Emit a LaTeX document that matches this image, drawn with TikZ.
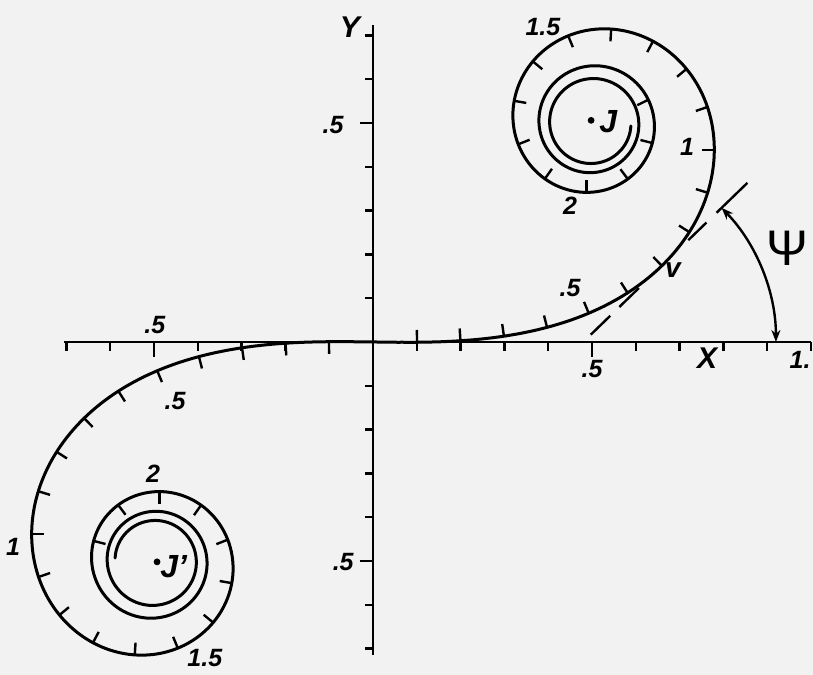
\documentclass[tikz,border=0pt]{standalone}
\usepackage{fontspec}
\setmainfont{Liberation Sans}
\usetikzlibrary{arrows.meta}
\definecolor{bg}{RGB}{242,242,242}
\begin{document}
\begin{tikzpicture}[x=219pt,y=219pt,
 declare function={
  ff(\t)=(1+0.926*\t)/(2+1.792*\t+3.104*\t*\t);
  gg(\t)=1/(2+4.142*\t+3.492*\t*\t+6.670*\t*\t*\t);
  cx(\t)=0.5+ff(\t)*sin(90*\t*\t)-gg(\t)*cos(90*\t*\t);
  cy(\t)=0.5-ff(\t)*cos(90*\t*\t)-gg(\t)*sin(90*\t*\t);
 },
 curve/.style={line width=1.5pt, line join=round, line cap=round},
 axisline/.style={line width=1.4pt},
 tk/.style={line width=1.2pt},
 dsh/.style={line width=1.2pt},
 lbl/.style={font=\fontsize{12.5}{14}\selectfont\bfseries\itshape, inner sep=0pt},
 big/.style={font=\fontsize{15}{18}\selectfont\bfseries\itshape, inner sep=0pt},
]
\useasboundingbox (-0.8516,-0.7603) rectangle (1.0046,0.7808);
\fill[bg] (-0.8516,-0.7603) rectangle (1.0046,0.7808);
% axes
\draw[axisline] (-0.705,0) -- (1.0,0);
\draw[axisline] (0,-0.715) -- (0,0.724);
\foreach \i in {-7,...,-1,1,2,...,10}{
  \pgfmathsetmacro\L{abs(\i)==5?0.034:0.0205}
  \draw[tk] (\i/10,0) -- (\i/10,-\L);}
\foreach \i in {-7,...,-1,1,2,...,7}{
  \pgfmathsetmacro\L{abs(\i)==5?0.03:0.018}
  \draw[tk] (0,\i/10) -- (-\L,\i/10);}
% Cornu spiral
\draw[curve] plot[domain=0:3.606,samples=500,smooth] ({cx(\x)},{cy(\x)});
\draw[curve] plot[domain=0:3.606,samples=500,smooth] ({-cx(\x)},{-cy(\x)});
\foreach \k in {1,...,23}{
  \pgfmathsetmacro\tv{\k/10}
  \draw[tk] ({cx(\tv)},{cy(\tv)}) -- ++({90*\tv*\tv+90}:0.028);}
\foreach \k in {1,...,22}{
  \pgfmathsetmacro\tv{\k/10}
  \draw[tk] ({-cx(\tv)},{-cy(\tv)}) -- ++({90*\tv*\tv-90}:0.028);}
% tangent and angle
\def\psiang{44.1}
\coordinate (T) at ({cx(0.7)},{cy(0.7)});
\coordinate (I) at ([shift={(\psiang:{-cy(0.7)/sin(44.1)})}]T);
\draw[dsh] ([shift={(\psiang:-0.226)}]T) -- ([shift={(\psiang:-0.164)}]T);
\draw[dsh] ([shift={(\psiang:-0.135)}]T) -- ([shift={(\psiang:-0.073)}]T);
\draw[dsh] ([shift={(\psiang:0.084)}]T) -- ([shift={(\psiang:0.142)}]T);
\draw[dsh] ([shift={(\psiang:0.174)}]T) -- ([shift={(\psiang:0.272)}]T);
\draw[dsh,{Stealth[length=6pt,width=4.5pt]}-{Stealth[length=6pt,width=4.5pt]}]
  ([shift={(0:0.44)}]I) arc[start angle=0,end angle=\psiang,radius=0.44];
% centres
\fill (0.498,0.506) circle[radius=1.7pt];
\fill (-0.493,-0.502) circle[radius=1.7pt];
% labels
\node[big] (ly) at (-0.0525,0.719) {Y};
\node[big] (lx) at (0.763,-0.037) {X};
\node[lbl] (ly1) at (-0.091,0.495) {.5};
\node[lbl] (ly2) at (-0.068,-0.502) {.5};
\node[lbl] (lx1) at (-0.498,0.039) {.5};
\node[lbl] (lx2) at (0.5,-0.061) {.5};
\node[lbl] (lx3) at (0.975,-0.041) {1.};
\node[lbl] (lc1) at (0.450,0.123) {.5};
\node[lbl] (lc2) at (-0.452,-0.134) {.5};
\node[lbl] (lc3) at (0.717,0.445) {1};
\node[lbl] (lc4) at (0.388,0.719) {1.5};
\node[lbl] (lc5) at (0.450,0.311) {2};
\node[lbl] (lc6) at (-0.822,-0.468) {1};
\node[lbl] (lc7) at (-0.502,-0.302) {2};
\node[lbl] (lc8) at (-0.384,-0.721) {1.5};
\node[big,font=\fontsize{16}{18}\selectfont\bfseries\itshape] (lj) at (0.537,0.503) {J};
\node[big,font=\fontsize{16}{18}\selectfont\bfseries\itshape] (lj2) at (-0.455,-0.512) {J'};
\node[big,font=\fontsize{14}{16}\selectfont\bfseries\itshape] (lv) at (0.685,0.164) {v};
\node[inner sep=0pt,font=\fontsize{25}{27}\selectfont] (lpsi) at (0.947,0.215) {Ψ};
\end{tikzpicture}
\end{document}
